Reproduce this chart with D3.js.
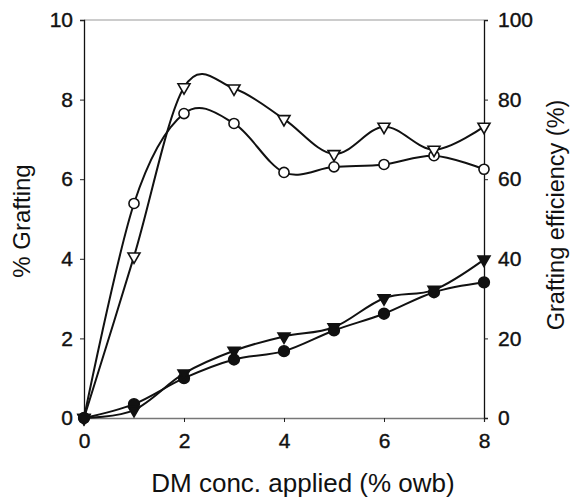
<!DOCTYPE html>
<html>
<head>
<meta charset="utf-8">
<script src="https://cdn.jsdelivr.net/npm/d3@7"></script>
<style>
body{margin:0;background:#fff;}
text{font-family:"Liberation Sans",Arial,sans-serif;fill:#111;}
</style>
</head>
<body>
<script>
const w = 574;
const h = 500;
const mg = {l:84, r:90, t:20, b:82};

// x values (DM conc., % owb)
const conc = [0,1,2,3,4,5,6,7,8];
// filled symbols: % grafting (left axis)
const graftTri = [0,0.2,1.12,1.69,2.05,2.28,3.01,3.22,3.98];
const graftCirc = [0,0.35,1.0,1.47,1.68,2.2,2.62,3.16,3.41];
// open symbols: grafting efficiency % (right axis)
const effTri = [0,40.6,83.1,82.8,75.1,66.3,73.2,67.4,73.2];
const effCirc = [0,53.9,76.5,74,61.7,63.1,63.7,65.9,62.5];

const xTicks = [0,2,4,6,8];
const yTicks = [0,2,4,6,8,10];
const y2Ticks = [0,20,40,60,80,100];

const svg = d3.select('body').append('svg')
  .attr('width',w).attr('height',h);

const x = d3.scaleLinear().domain([0,8]).range([mg.l,w-mg.r]);
const y = d3.scaleLinear().domain([0,10]).range([h-mg.b,mg.t]);
const y2 = d3.scaleLinear().domain([0,100]).range([h-mg.b,mg.t]);

// top border, light grey
svg.append('line').attr('x1',x(0)).attr('x2',x(8)).attr('y1',y(10)).attr('y2',y(10))
  .attr('stroke','#999').attr('stroke-width',1);

const gx = svg.append('g').attr('transform','translate(0,'+y(0)+')')
  .call(d3.axisBottom(x).tickValues(xTicks).tickSize(4).tickPadding(8).tickFormat(d3.format('d')));
const gy = svg.append('g').attr('transform','translate('+x(0)+',0)')
  .call(d3.axisLeft(y).tickValues(yTicks).tickSize(4).tickPadding(7).tickFormat(d3.format('d')));
const gy2 = svg.append('g').attr('transform','translate('+x(8)+',0)')
  .call(d3.axisRight(y2).tickValues(y2Ticks).tickSize(4).tickPadding(10).tickFormat(d3.format('d')));

[gx,gy,gy2].forEach(g=>{
  g.selectAll('text').style('font-size','21px').style('font-family','"Liberation Sans",Arial,sans-serif')
    .attr('fill','#111').attr('stroke','#111').attr('stroke-width',0.4);
  g.selectAll('line').attr('stroke','#222');
  g.select('.domain').attr('stroke','#111').attr('stroke-width',1.3);
});
gx.select('.domain').attr('stroke','#777');
gx.selectAll('.tick text').attr('dy','0.85em');

// axis titles
svg.append('text').attr('transform','translate(22,'+((y(0)+y(10))/2+2)+') rotate(-90)')
  .attr('text-anchor','middle').attr('dy','0.35em').style('font-size','24px').text('% Grafting');
svg.append('text').attr('transform','translate(556,'+((y(0)+y(10))/2-4)+') rotate(-90)')
  .attr('text-anchor','middle').attr('dy','0.35em').style('font-size','23.5px').text('Grafting efficiency (%)');
svg.append('text').attr('x',(x(0)+x(8))/2+19).attr('y',492)
  .attr('text-anchor','middle').style('font-size','26px').text('DM conc. applied (% owb)');

const line = (sc)=>d3.line().x((d,i)=>x(conc[i])).y(d=>sc(d)).curve(d3.curveCardinal.tension(0));

function series(vals,sc,shape,filled){
  svg.append('path').datum(vals).attr('d',line(sc))
    .attr('fill','none').attr('stroke','#111').attr('stroke-width',2);
  const g = svg.append('g');
  const sym = shape=='tri'
    ? d3.symbol().type(d3.symbolTriangle).size(62)
    : d3.symbol().type(d3.symbolCircle).size(filled?90:80);
  g.selectAll('path').data(vals).enter().append('path')
    .attr('d',sym)
    .attr('transform',(d,i)=>'translate('+x(conc[i])+','+sc(d)+')'+(shape=='tri'?' rotate(180)':''))
    .attr('fill',filled?'#111':'#fff')
    .attr('stroke','#111').attr('stroke-width',1.6);
}

series(effCirc,y2,'circ',false);
series(effTri,y2,'tri',false);
series(graftCirc,y,'circ',true);
series(graftTri,y,'tri',true);
</script>
</body>
</html>
